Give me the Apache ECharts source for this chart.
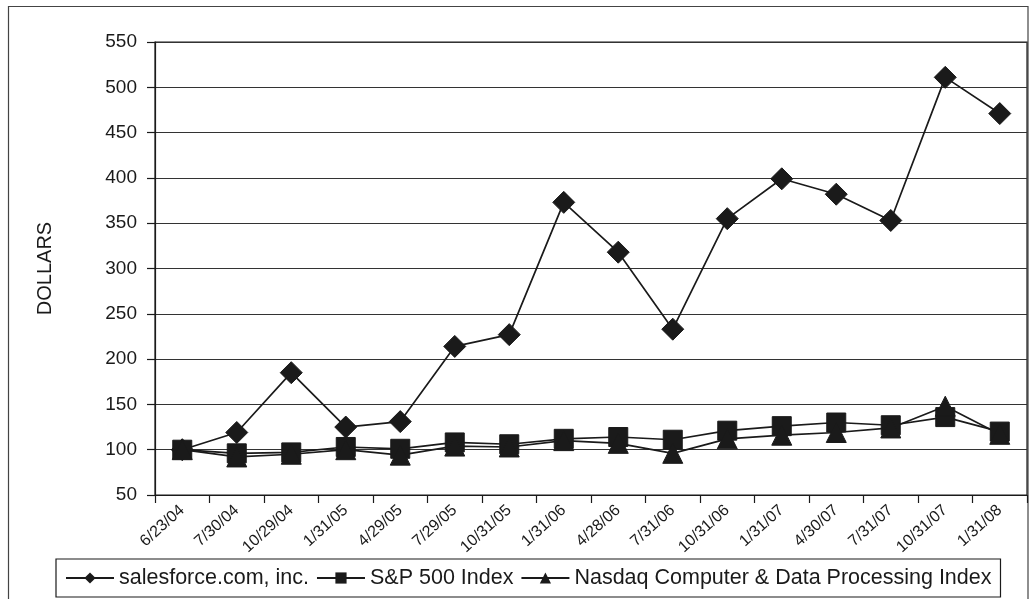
<!DOCTYPE html>
<html>
<head>
<meta charset="utf-8">
<script src="https://cdn.jsdelivr.net/npm/echarts@6/dist/echarts.min.js"></script>
<style>
html,body{margin:0;padding:0;background:#fff;}
#chart{width:1033px;height:599px;}
</style>
</head>
<body>
<div id="chart"></div>
<script>
var categories = ['6/23/04','7/30/04','10/29/04','1/31/05','4/29/05','7/29/05','10/31/05','1/31/06','4/28/06','7/31/06','10/31/06','1/31/07','4/30/07','7/31/07','10/31/07','1/31/08'];
var salesforce = [100,119,185,125,131,214,227,373,318,233,355,399,382,353,511,471];
var sp500 = [100,96,97,103,101,108,106,112,114,111,121,126,130,127,136,120];
var nasdaq = [100,92,95,100,94,104,103,110,107,96,112,116,119,124,148,117];
var yTicks = {min:50, max:550, step:50};

var FONT = '"Liberation Sans", Arial, Helvetica, sans-serif';
var INK = '#1a1a1a';
var chart = echarts.init(document.getElementById('chart'));

function lineSeries(name, data, symbol, size){
  return {
    name: name, type: 'line', data: data,
    symbol: symbol, symbolSize: size,
    lineStyle: {color: INK, width: 1.7},
    itemStyle: {color: INK, borderColor: INK},
    emphasis: {disabled: true},
    animation: false
  };
}

chart.setOption({
  backgroundColor: '#fff',
  animation: false,
  graphic: [{
    type: 'rect', silent: true, z: -1,
    shape: {x: 8.5, y: 6.5, width: 1019.5, height: 640},
    style: {fill: 'none', stroke: '#444', lineWidth: 1.2}
  }],
  grid: {left: 155, right: 6, top: 42, bottom: 104, show: true, borderColor: INK, borderWidth: 1.2, backgroundColor: 'transparent'},
  legend: {
    left: 56, top: 559,
    padding: [8, 9, 8, 9],
    borderColor: INK, borderWidth: 1.2,
    itemWidth: 48, itemHeight: 14, itemGap: 7,
    textStyle: {fontFamily: FONT, fontSize: 21.5, color: INK},
    selectedMode: false,
    data: ['salesforce.com, inc.', 'S&P 500 Index', 'Nasdaq Computer & Data Processing Index']
  },
  xAxis: {
    type: 'category', data: categories, boundaryGap: true,
    axisLine: {lineStyle: {color: INK, width: 1.2}},
    axisTick: {show: true, length: 8, inside: false, lineStyle: {color: INK, width: 1.2}},
    axisLabel: {interval: 0, rotate: 42, fontFamily: FONT, fontSize: 16, color: INK, margin: 13},
    splitLine: {show: false}
  },
  yAxis: {
    type: 'value', min: yTicks.min, max: yTicks.max, interval: yTicks.step,
    name: 'DOLLARS', nameLocation: 'middle', nameRotate: 90, nameGap: 100,
    nameTextStyle: {fontFamily: FONT, fontSize: 20, color: INK},
    axisLine: {show: true, lineStyle: {color: INK, width: 1.2}},
    axisTick: {show: true, length: 8, inside: false, lineStyle: {color: INK, width: 1.2}},
    axisLabel: {fontFamily: FONT, fontSize: 19, color: INK, margin: 18},
    splitLine: {show: true, lineStyle: {color: '#333', width: 1.2}}
  },
  series: [
    lineSeries('salesforce.com, inc.', salesforce, 'diamond', 22),
    lineSeries('S&P 500 Index', sp500, 'rect', 19),
    lineSeries('Nasdaq Computer & Data Processing Index', nasdaq, 'triangle', 20)
  ]
});
</script>
</body>
</html>
